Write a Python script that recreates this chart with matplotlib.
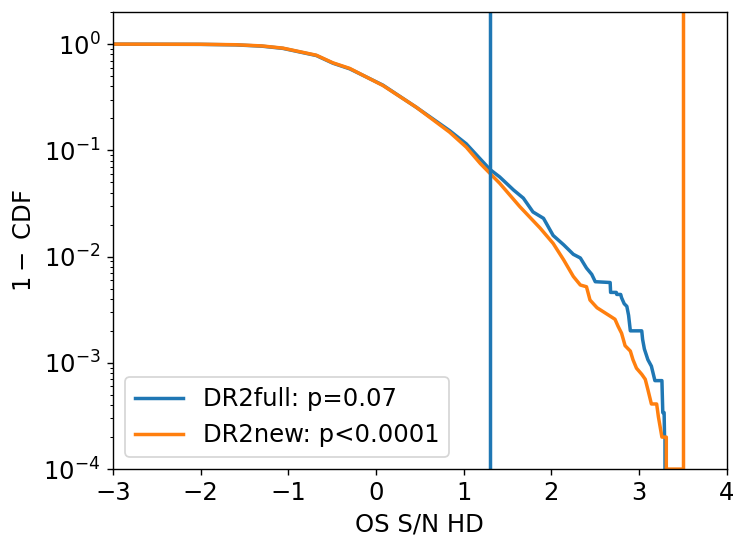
import numpy as np
import matplotlib
matplotlib.use("Agg")
import matplotlib.pyplot as plt

# --- data (x = OS S/N, y = 1 - CDF) -------------------------------------------
full_x = [-3.5, -2.0, -1.6, -1.3, -1.06, -0.68, -0.49, -0.30, -0.11, 0.08,
          0.46, 0.84, 1.03, 1.30, 1.41, 1.57, 1.68, 1.79, 1.91, 2.02,
          2.14, 2.25, 2.33, 2.40, 2.46, 2.50, 2.67, 2.675, 2.74, 2.745,
          2.79, 2.80, 2.83, 2.86, 2.88, 2.90, 3.03, 3.04, 3.06, 3.10,
          3.14, 3.18, 3.26, 3.27, 3.285, 3.29, 3.295, 3.295]
full_y = [1.0, 0.993, 0.982, 0.955, 0.91, 0.78, 0.66, 0.585, 0.49, 0.41,
          0.254, 0.153, 0.115, 0.066, 0.0562, 0.0422, 0.0355, 0.0263, 0.0229, 0.0158,
          0.0129, 0.0105, 0.0097, 0.0078, 0.0068, 0.0058, 0.0057, 0.0046, 0.0046, 0.0044,
          0.0044, 0.0041, 0.0036, 0.0034, 0.0028, 0.0020, 0.0020, 0.00166, 0.00135, 0.00107,
          0.00093, 0.00068, 0.00068, 0.00034, 0.00034, 0.00020, 0.00020, 0.00001]

new_x = [-3.5, -2.0, -1.6, -1.3, -1.06, -0.68, -0.49, -0.30, -0.11, 0.08,
         0.46, 0.84, 1.03, 1.19, 1.41, 1.64, 1.87, 2.02, 2.14, 2.25,
         2.33, 2.40, 2.44, 2.52, 2.67, 2.725, 2.76, 2.80, 2.84, 2.90,
         2.93, 2.97, 3.03, 3.07, 3.10, 3.14, 3.20, 3.22, 3.26, 3.31,
         3.31, 3.50]
new_y = [1.0, 0.995, 0.985, 0.96, 0.915, 0.785, 0.665, 0.59, 0.49, 0.407,
         0.254, 0.148, 0.107, 0.075, 0.049, 0.0295, 0.0186, 0.0133, 0.0093, 0.0065,
         0.0054, 0.0052, 0.0039, 0.0033, 0.00275, 0.00257, 0.00221, 0.0019, 0.00145, 0.00129,
         0.00107, 0.00089, 0.00078, 0.0007, 0.00056, 0.00041, 0.00041, 0.00031, 0.0002, 0.0002,
         0.0001, 0.0001]

full_obs = 1.30
new_obs = 3.50
labels = ["DR2full: p=0.07", "DR2new: p<0.0001"]

# --- plot ---------------------------------------------------------------------
plt.rcParams["font.size"] = 14
fig = plt.figure(figsize=(747 / 125, 548 / 125), dpi=125)
ax = fig.add_axes([0.151, 0.144, 0.822, 0.834])

ax.plot(full_x, full_y, color="tab:blue", lw=2, label=labels[0])
ax.plot(new_x, new_y, color="tab:orange", lw=2, label=labels[1])
ax.axvline(full_obs, color="tab:blue", lw=2)
ax.axvline(new_obs, color="tab:orange", lw=2)

ax.set_yscale("log")
ax.set_xlim(-3, 4)
ax.set_ylim(1e-4, 2)
ax.set_xlabel("OS S/N HD")
ax.set_ylabel(r"$1-$ CDF")
ax.legend(loc="lower left", fontsize=14)

fig.savefig("out.png", dpi=125)
